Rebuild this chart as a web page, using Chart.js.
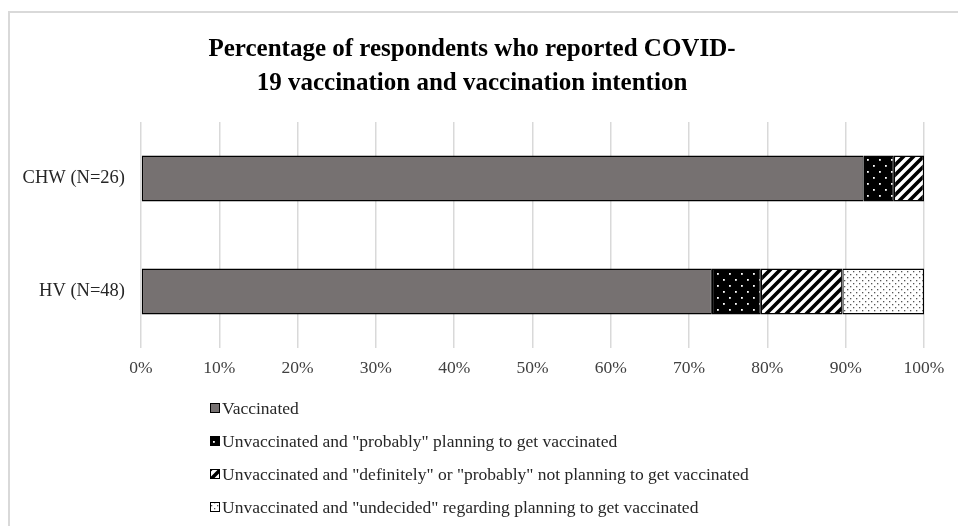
<!DOCTYPE html>
<html>
<head>
<meta charset="utf-8">
<script src="https://cdn.jsdelivr.net/npm/chart.js@4"></script>
<style>
  html, body { margin: 0; padding: 0; background: #fff; }
  #wrap { position: relative; width: 958px; height: 526px; }
</style>
</head>
<body>
<div id="wrap"><canvas id="myChart" width="958" height="526"></canvas></div>
<script>
'use strict'

// data (percent of each group)
const groups = ['CHW (N=26)', 'HV (N=48)'];
const vaccinated = [92.3, 72.91];
const probablyPlanning = [3.85, 6.25];
const notPlanning = [3.85, 10.42];
const undecided = [0, 10.42];
const xTicks = [0, 10, 20, 30, 40, 50, 60, 70, 80, 90, 100];

const seriesNames = [
  'Vaccinated',
  'Unvaccinated and "probably" planning to get vaccinated',
  'Unvaccinated and "definitely" or "probably" not planning to get vaccinated',
  'Unvaccinated and "undecided" regarding planning to get vaccinated'
];

const serif = "'Liberation Serif', 'Times New Roman', serif";

// little tiles for the hatch fills
function makeTile(size, draw){
  const c = document.createElement('canvas');
  c.width = size;
  c.height = size;
  const g = c.getContext('2d');
  draw(g, size);
  return document.createElement('canvas').getContext('2d').createPattern(c, 'repeat');
}

const blackDots = makeTile(12, function(g, s){
  g.fillStyle = '#000';
  g.fillRect(0, 0, s, s);
  g.fillStyle = '#fff';
  g.fillRect(3, 3, 1.8, 1.8);
  g.fillRect(9, 9, 1.8, 1.8);
});

const stripes = makeTile(10, function(g, s){
  g.fillStyle = '#fff';
  g.fillRect(0, 0, s, s);
  g.strokeStyle = '#000';
  g.lineWidth = 3.6;
  g.beginPath();
  for (let k = -1; k <= 1; k++){
    g.moveTo(k * s - 2, s + 2);
    g.lineTo(k * s + s + 2, -2);
  }
  g.stroke();
});

const fineDots = makeTile(6, function(g, s){
  g.fillStyle = '#fff';
  g.fillRect(0, 0, s, s);
  g.fillStyle = '#555';
  g.fillRect(1, 1, 1.3, 1.3);
  g.fillRect(4, 4, 1.3, 1.3);
});

const fills = ['#767171', blackDots, stripes, fineDots];
const values = [vaccinated, probablyPlanning, notPlanning, undecided];

const datasets = [];
for (let i = 0; i < seriesNames.length; i++){
  datasets.push({
    label: seriesNames[i],
    data: values[i],
    backgroundColor: fills[i],
    borderColor: '#000',
    borderWidth: 1.3,
    borderSkipped: false,
    barPercentage: 0.405,
    categoryPercentage: 1
  });
}

// grey frame + stacked legend drawn under the plot
const extras = {
  id: 'extras',
  beforeDraw(chart){
    const ctx = chart.ctx;
    ctx.save();
    ctx.strokeStyle = '#d9d9d9';
    ctx.lineWidth = 2;
    ctx.strokeRect(9, 12, 1000, 600);
    ctx.restore();
  },
  afterDraw(chart){
    const ctx = chart.ctx;
    ctx.save();
    ctx.font = '17.5px ' + serif;
    ctx.textBaseline = 'middle';
    chart.data.datasets.forEach(function(ds, i){
      const y = 408 + i * 33;
      ctx.fillStyle = ds.backgroundColor;
      ctx.fillRect(210, y - 5, 10, 10);
      ctx.strokeStyle = '#000';
      ctx.lineWidth = 1;
      ctx.strokeRect(210.5, y - 4.5, 9, 9);
      ctx.fillStyle = '#262626';
      ctx.fillText(ds.label, 222, y + 1);
    });
    ctx.restore();
  }
};

const myChart = new Chart(document.getElementById('myChart').getContext('2d'), {
  type: 'bar',
  data: {
    labels: groups,
    datasets: datasets
  },
  options: {
    indexAxis: 'y',
    responsive: false,
    animation: false,
    layout: {
      padding: { top: 0, left: 20, right: 34, bottom: 148 }
    },
    scales: {
      x: {
        stacked: true,
        min: 0,
        max: 100,
        afterBuildTicks(scale){
          scale.ticks = xTicks.map(function(v){ return { value: v }; });
        },
        afterFit(scale){ scale.height = 30; },
        ticks: {
          callback: function(v){ return v + '%'; },
          color: '#404040',
          font: { family: serif, size: 17.5 },
          padding: 10,
          maxRotation: 0
        },
        grid: { color: '#d9d9d9', lineWidth: 1.5, drawTicks: false },
        border: { display: false }
      },
      y: {
        stacked: true,
        afterFit(scale){ scale.width = 121; },
        ticks: {
          color: '#262626',
          font: { family: serif, size: 18.5 },
          padding: 8
        },
        grid: { display: false },
        border: { display: false }
      }
    },
    plugins: {
      legend: { display: false },
      tooltip: { enabled: false },
      title: {
        display: true,
        text: ['Percentage of respondents who reported COVID-', '19 vaccination and vaccination intention'],
        color: '#000',
        font: { family: serif, size: 25, weight: 'bold', lineHeight: 1.36 },
        padding: { top: 33, bottom: 21 }
      }
    }
  },
  plugins: [extras]
});
</script>
</body>
</html>
